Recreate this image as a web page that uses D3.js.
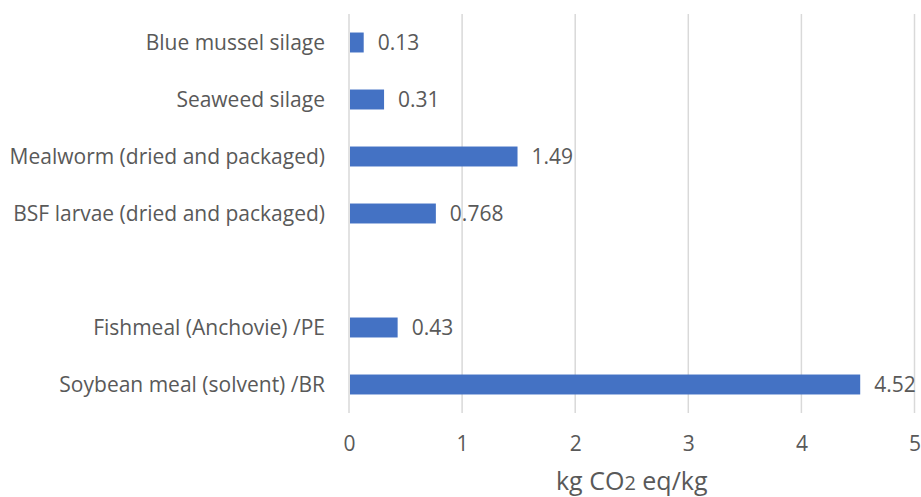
<!DOCTYPE html>
<html>
<head>
<meta charset="utf-8">
<script src="https://cdn.jsdelivr.net/npm/d3@7"></script>
<style>
  html, body { margin: 0; padding: 0; background: #ffffff; }
  svg { display: block; }
  text { font-family: "Open Sans", sans-serif; fill: #595959; }
</style>
</head>
<body>
<svg id="chart" width="921" height="497"></svg>
<script>
// Data (top to bottom); empty string is the blank slot in the original chart
const categories = [
  "Blue mussel silage",
  "Seaweed silage",
  "Mealworm (dried and packaged)",
  "BSF larvae (dried and packaged)",
  "",
  "Fishmeal (Anchovie) /PE",
  "Soybean meal (solvent) /BR"
];
const values = [0.13, 0.31, 1.49, 0.768, null, 0.43, 4.52];
const valueLabels = ["0.13", "0.31", "1.49", "0.768", "", "0.43", "4.52"];
const xTicks = [0, 1, 2, 3, 4, 5];

const margin = { top: 14, left: 349 };
const plotW = 914.5 - margin.left;
const plotH = 413 - margin.top;

const svg = d3.select("#chart");
const g = svg.append("g").attr("transform", `translate(${margin.left},${margin.top})`);

const x = d3.scaleLinear().domain([0, 5]).range([0, plotW]);
const y = d3.scaleBand().domain(d3.range(categories.length)).range([0, plotH]).paddingInner(0.65).paddingOuter(0.325);

const FS = 21;

// gridlines
g.selectAll("line.grid").data(xTicks).join("line")
  .attr("class", "grid")
  .attr("x1", d => x(d)).attr("x2", d => x(d))
  .attr("y1", 0).attr("y2", plotH)
  .attr("stroke", "#d9d9d9").attr("stroke-width", 1.5);

// bars
const rows = categories.map((c, i) => ({ i, c, v: values[i], l: valueLabels[i] }));
g.selectAll("rect.bar").data(rows.filter(d => d.v != null)).join("rect")
  .attr("class", "bar")
  .attr("x", x(0) + 1)
  .attr("y", d => y(d.i))
  .attr("width", d => x(d.v) - x(0) - 1)
  .attr("height", y.bandwidth())
  .attr("fill", "#4472c4");

// value labels
g.selectAll("text.val").data(rows.filter(d => d.v != null)).join("text")
  .attr("class", "val")
  .attr("x", d => x(d.v) + 14)
  .attr("y", d => y(d.i) + y.bandwidth() / 2)
  .attr("dy", "0.35em")
  .attr("font-size", FS)
  .text(d => d.l);

// category labels
g.selectAll("text.cat").data(rows).join("text")
  .attr("class", "cat")
  .attr("x", -24)
  .attr("y", d => y(d.i) + y.bandwidth() / 2)
  .attr("dy", "0.35em")
  .attr("text-anchor", "end")
  .attr("font-size", FS)
  .text(d => d.c);

// x axis tick labels
const xAxis = d3.axisBottom(x).tickValues(xTicks).tickSize(0).tickPadding(0).tickFormat(d3.format("d"));
const ax = g.append("g").attr("transform", `translate(0,${plotH + 31})`).call(xAxis);
ax.select(".domain").remove();
ax.selectAll("text").attr("font-size", FS).attr("fill", "#595959").attr("font-family", "Open Sans, sans-serif").attr("dy", "0.35em").attr("y", 0);

// axis title
const t = svg.append("text")
  .attr("x", margin.left + plotW / 2)
  .attr("y", 490)
  .attr("text-anchor", "middle")
  .attr("font-size", 25);
t.append("tspan").text("kg CO");
t.append("tspan").attr("font-size", 20).text("2");
t.append("tspan").text(" eq/kg");
</script>
</body>
</html>
